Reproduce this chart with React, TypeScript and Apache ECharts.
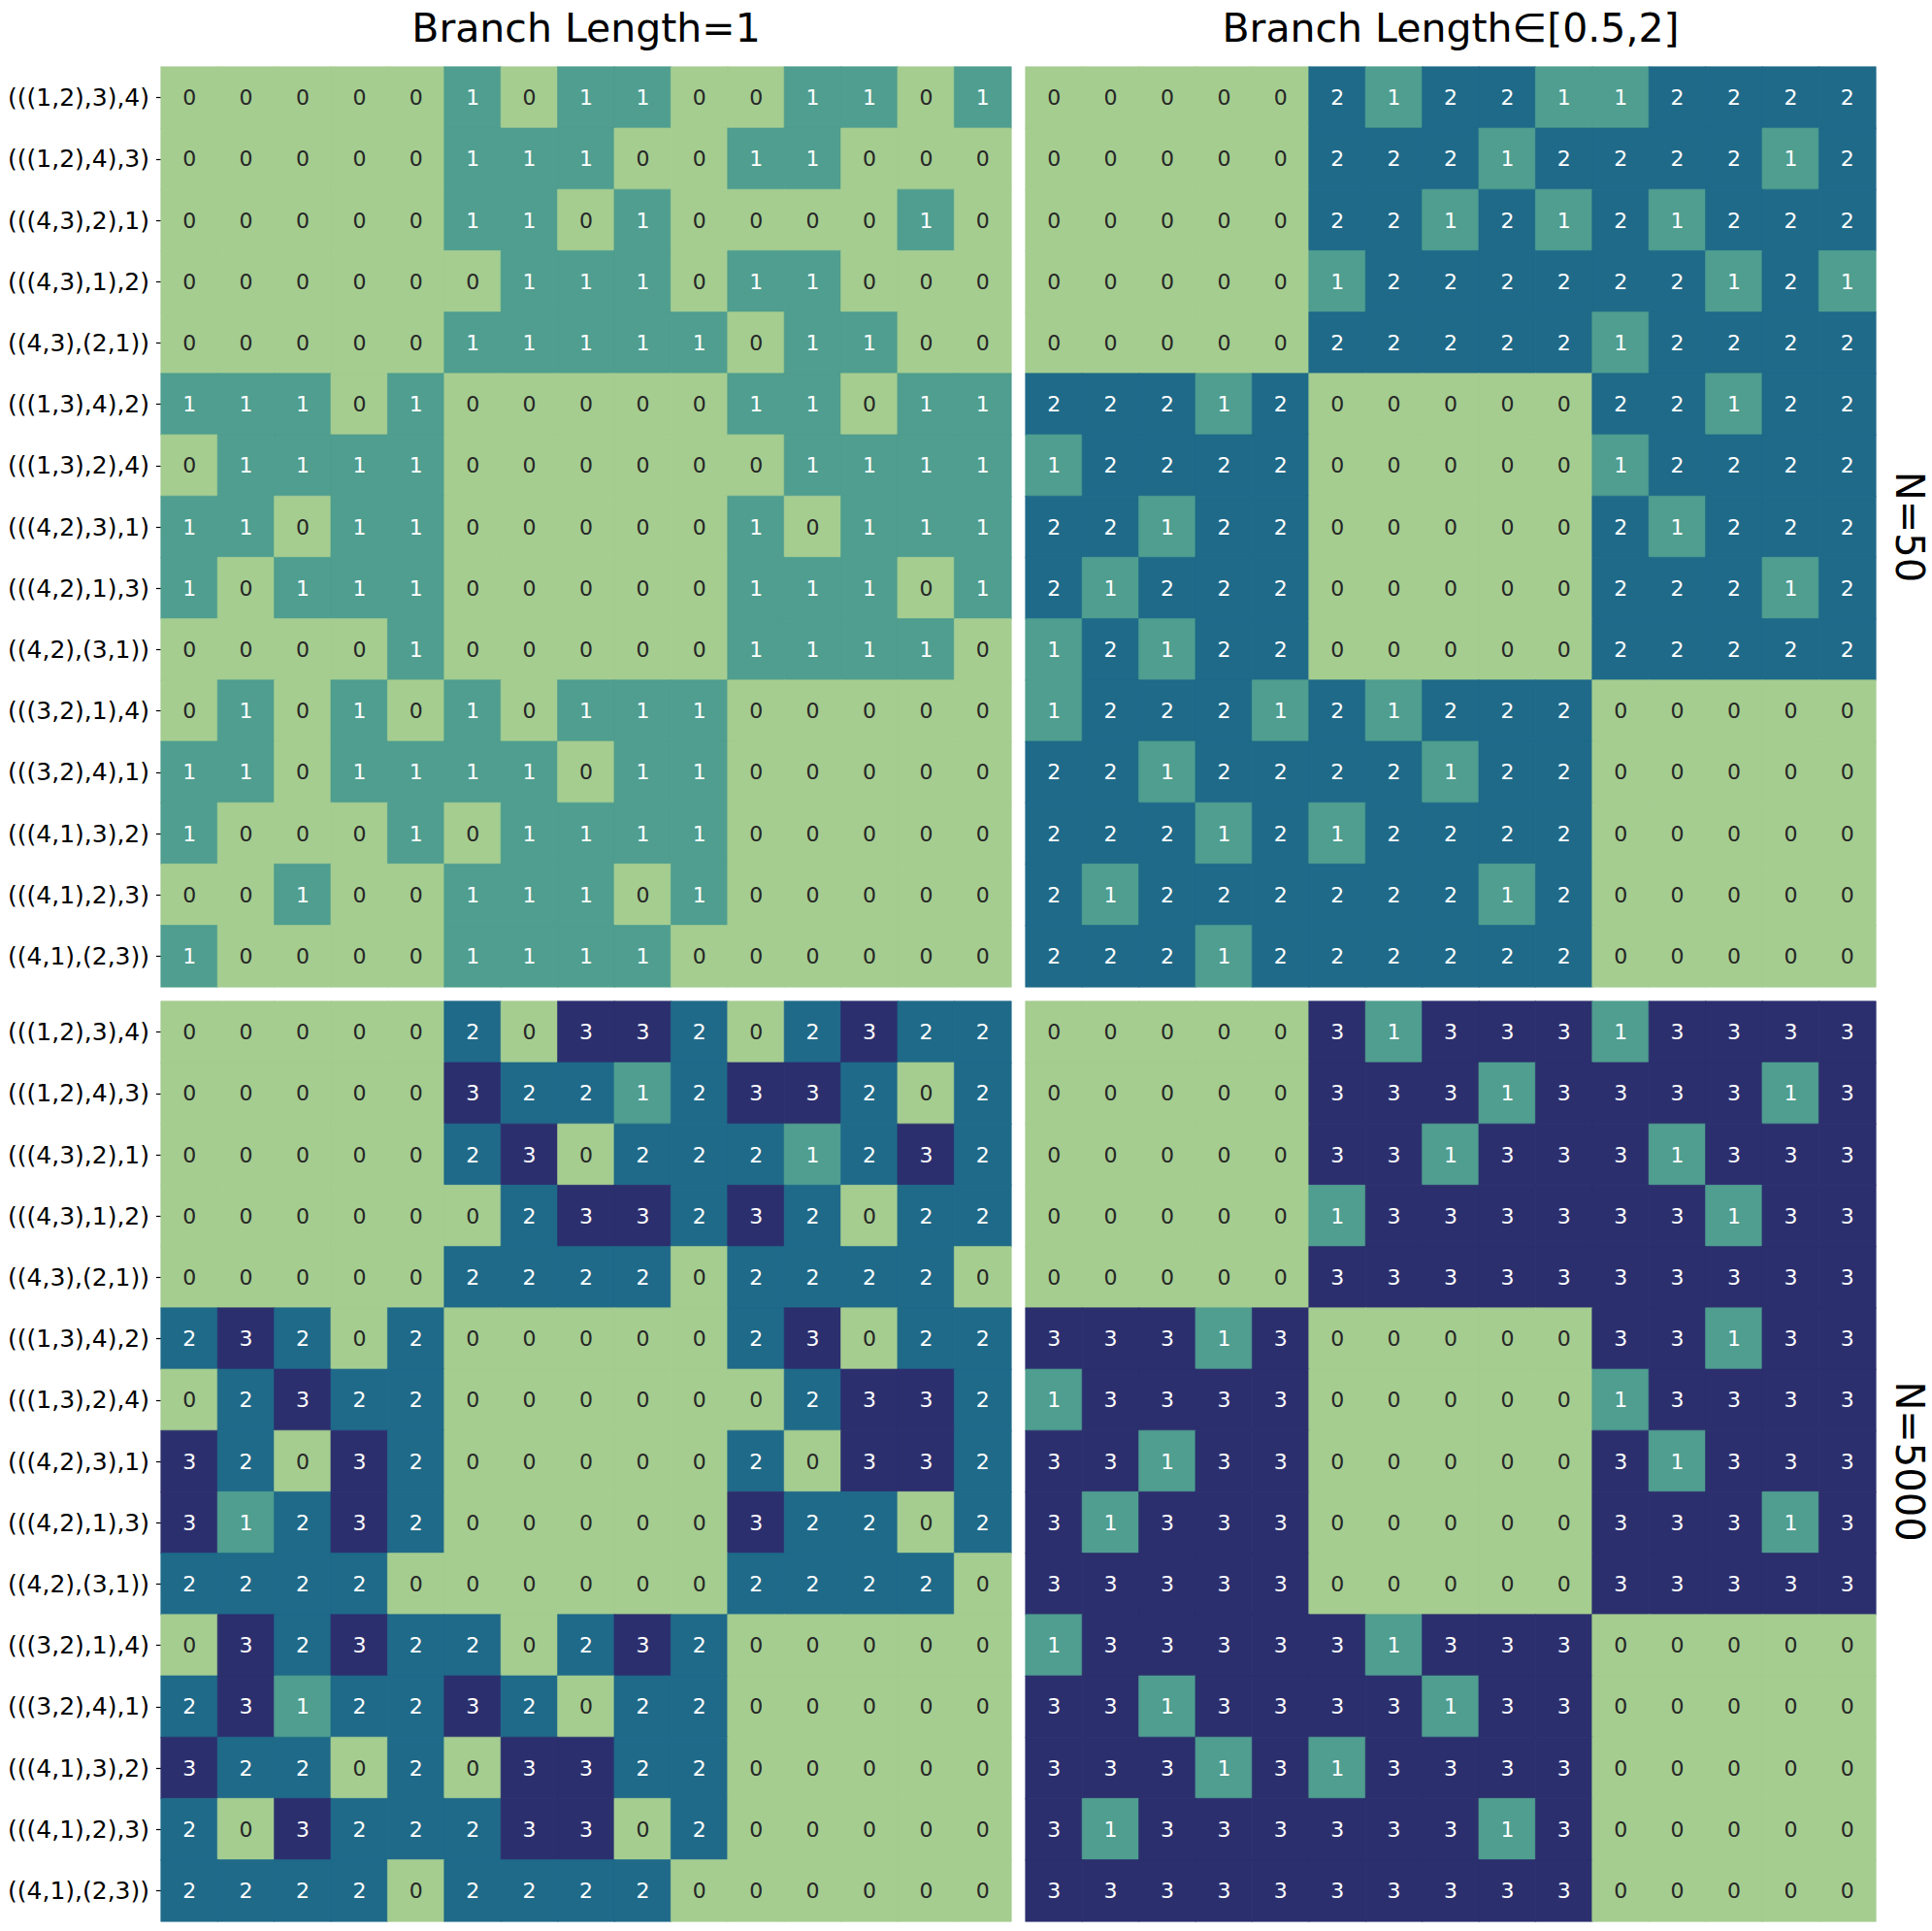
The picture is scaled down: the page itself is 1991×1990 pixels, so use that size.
import React, { useEffect, useRef } from "react";
import * as echarts from "echarts";

const rowLabels = [
  "(((1,2),3),4)",
  "(((1,2),4),3)",
  "(((4,3),2),1)",
  "(((4,3),1),2)",
  "((4,3),(2,1))",
  "(((1,3),4),2)",
  "(((1,3),2),4)",
  "(((4,2),3),1)",
  "(((4,2),1),3)",
  "((4,2),(3,1))",
  "(((3,2),1),4)",
  "(((3,2),4),1)",
  "(((4,1),3),2)",
  "(((4,1),2),3)",
  "((4,1),(2,3))",
];

const columnTitles = ["Branch Length=1", "Branch Length\u2208[0.5,2]"];
const rowTitles = ["N=50", "N=5000"];

const n50Fixed = [
  [0, 0, 0, 0, 0, 1, 0, 1, 1, 0, 0, 1, 1, 0, 1],
  [0, 0, 0, 0, 0, 1, 1, 1, 0, 0, 1, 1, 0, 0, 0],
  [0, 0, 0, 0, 0, 1, 1, 0, 1, 0, 0, 0, 0, 1, 0],
  [0, 0, 0, 0, 0, 0, 1, 1, 1, 0, 1, 1, 0, 0, 0],
  [0, 0, 0, 0, 0, 1, 1, 1, 1, 1, 0, 1, 1, 0, 0],
  [1, 1, 1, 0, 1, 0, 0, 0, 0, 0, 1, 1, 0, 1, 1],
  [0, 1, 1, 1, 1, 0, 0, 0, 0, 0, 0, 1, 1, 1, 1],
  [1, 1, 0, 1, 1, 0, 0, 0, 0, 0, 1, 0, 1, 1, 1],
  [1, 0, 1, 1, 1, 0, 0, 0, 0, 0, 1, 1, 1, 0, 1],
  [0, 0, 0, 0, 1, 0, 0, 0, 0, 0, 1, 1, 1, 1, 0],
  [0, 1, 0, 1, 0, 1, 0, 1, 1, 1, 0, 0, 0, 0, 0],
  [1, 1, 0, 1, 1, 1, 1, 0, 1, 1, 0, 0, 0, 0, 0],
  [1, 0, 0, 0, 1, 0, 1, 1, 1, 1, 0, 0, 0, 0, 0],
  [0, 0, 1, 0, 0, 1, 1, 1, 0, 1, 0, 0, 0, 0, 0],
  [1, 0, 0, 0, 0, 1, 1, 1, 1, 0, 0, 0, 0, 0, 0],
];

const n50Range = [
  [0, 0, 0, 0, 0, 2, 1, 2, 2, 1, 1, 2, 2, 2, 2],
  [0, 0, 0, 0, 0, 2, 2, 2, 1, 2, 2, 2, 2, 1, 2],
  [0, 0, 0, 0, 0, 2, 2, 1, 2, 1, 2, 1, 2, 2, 2],
  [0, 0, 0, 0, 0, 1, 2, 2, 2, 2, 2, 2, 1, 2, 1],
  [0, 0, 0, 0, 0, 2, 2, 2, 2, 2, 1, 2, 2, 2, 2],
  [2, 2, 2, 1, 2, 0, 0, 0, 0, 0, 2, 2, 1, 2, 2],
  [1, 2, 2, 2, 2, 0, 0, 0, 0, 0, 1, 2, 2, 2, 2],
  [2, 2, 1, 2, 2, 0, 0, 0, 0, 0, 2, 1, 2, 2, 2],
  [2, 1, 2, 2, 2, 0, 0, 0, 0, 0, 2, 2, 2, 1, 2],
  [1, 2, 1, 2, 2, 0, 0, 0, 0, 0, 2, 2, 2, 2, 2],
  [1, 2, 2, 2, 1, 2, 1, 2, 2, 2, 0, 0, 0, 0, 0],
  [2, 2, 1, 2, 2, 2, 2, 1, 2, 2, 0, 0, 0, 0, 0],
  [2, 2, 2, 1, 2, 1, 2, 2, 2, 2, 0, 0, 0, 0, 0],
  [2, 1, 2, 2, 2, 2, 2, 2, 1, 2, 0, 0, 0, 0, 0],
  [2, 2, 2, 1, 2, 2, 2, 2, 2, 2, 0, 0, 0, 0, 0],
];

const n5000Fixed = [
  [0, 0, 0, 0, 0, 2, 0, 3, 3, 2, 0, 2, 3, 2, 2],
  [0, 0, 0, 0, 0, 3, 2, 2, 1, 2, 3, 3, 2, 0, 2],
  [0, 0, 0, 0, 0, 2, 3, 0, 2, 2, 2, 1, 2, 3, 2],
  [0, 0, 0, 0, 0, 0, 2, 3, 3, 2, 3, 2, 0, 2, 2],
  [0, 0, 0, 0, 0, 2, 2, 2, 2, 0, 2, 2, 2, 2, 0],
  [2, 3, 2, 0, 2, 0, 0, 0, 0, 0, 2, 3, 0, 2, 2],
  [0, 2, 3, 2, 2, 0, 0, 0, 0, 0, 0, 2, 3, 3, 2],
  [3, 2, 0, 3, 2, 0, 0, 0, 0, 0, 2, 0, 3, 3, 2],
  [3, 1, 2, 3, 2, 0, 0, 0, 0, 0, 3, 2, 2, 0, 2],
  [2, 2, 2, 2, 0, 0, 0, 0, 0, 0, 2, 2, 2, 2, 0],
  [0, 3, 2, 3, 2, 2, 0, 2, 3, 2, 0, 0, 0, 0, 0],
  [2, 3, 1, 2, 2, 3, 2, 0, 2, 2, 0, 0, 0, 0, 0],
  [3, 2, 2, 0, 2, 0, 3, 3, 2, 2, 0, 0, 0, 0, 0],
  [2, 0, 3, 2, 2, 2, 3, 3, 0, 2, 0, 0, 0, 0, 0],
  [2, 2, 2, 2, 0, 2, 2, 2, 2, 0, 0, 0, 0, 0, 0],
];

const n5000Range = [
  [0, 0, 0, 0, 0, 3, 1, 3, 3, 3, 1, 3, 3, 3, 3],
  [0, 0, 0, 0, 0, 3, 3, 3, 1, 3, 3, 3, 3, 1, 3],
  [0, 0, 0, 0, 0, 3, 3, 1, 3, 3, 3, 1, 3, 3, 3],
  [0, 0, 0, 0, 0, 1, 3, 3, 3, 3, 3, 3, 1, 3, 3],
  [0, 0, 0, 0, 0, 3, 3, 3, 3, 3, 3, 3, 3, 3, 3],
  [3, 3, 3, 1, 3, 0, 0, 0, 0, 0, 3, 3, 1, 3, 3],
  [1, 3, 3, 3, 3, 0, 0, 0, 0, 0, 1, 3, 3, 3, 3],
  [3, 3, 1, 3, 3, 0, 0, 0, 0, 0, 3, 1, 3, 3, 3],
  [3, 1, 3, 3, 3, 0, 0, 0, 0, 0, 3, 3, 3, 1, 3],
  [3, 3, 3, 3, 3, 0, 0, 0, 0, 0, 3, 3, 3, 3, 3],
  [1, 3, 3, 3, 3, 3, 1, 3, 3, 3, 0, 0, 0, 0, 0],
  [3, 3, 1, 3, 3, 3, 3, 1, 3, 3, 0, 0, 0, 0, 0],
  [3, 3, 3, 1, 3, 1, 3, 3, 3, 3, 0, 0, 0, 0, 0],
  [3, 1, 3, 3, 3, 3, 3, 3, 1, 3, 0, 0, 0, 0, 0],
  [3, 3, 3, 3, 3, 3, 3, 3, 3, 3, 0, 0, 0, 0, 0],
];

const levelColors = ["#a5cd90", "#4f9e8f", "#1f6a89", "#2c2f6e"];
const FONT = "DejaVu Sans";

export default function App() {
  const ref = useRef<HTMLDivElement>(null);

  useEffect(() => {
    if (!ref.current) return;
    const chart = echarts.init(ref.current, undefined, { renderer: "svg" });

    const panels = [n50Fixed, n50Range, n5000Fixed, n5000Range];
    const lefts = [166, 1057];
    const tops = [69, 1032];
    const W = 876;
    const H = 948;

    const grid: any[] = [];
    const xAxis: any[] = [];
    const yAxis: any[] = [];
    const series: any[] = [];

    panels.forEach((mat, i) => {
      const col = i % 2;
      const row = Math.floor(i / 2);
      grid.push({ left: lefts[col], top: tops[row], width: W, height: H });
      xAxis.push({
        type: "category",
        gridIndex: i,
        data: rowLabels,
        show: false,
      });
      yAxis.push({
        type: "category",
        gridIndex: i,
        data: rowLabels,
        inverse: true,
        axisLine: { show: false },
        axisTick: {
          show: col === 0,
          alignWithLabel: true,
          length: 5,
          lineStyle: { color: "#000", width: 1.2 },
        },
        axisLabel: {
          show: col === 0,
          fontFamily: FONT,
          fontSize: 25,
          color: "#000",
          margin: 12,
          interval: 0,
        },
        splitLine: { show: false },
      });
      const data: any[] = [];
      mat.forEach((rowVals, r) => {
        rowVals.forEach((v, c) => {
          const fill = levelColors[v];
          data.push({
            value: [c, r, v],
            itemStyle: { borderColor: fill, borderWidth: 0.6 },
            label: { color: v === 0 ? "#262626" : "#ffffff" },
          });
        });
      });
      series.push({
        type: "heatmap",
        xAxisIndex: i,
        yAxisIndex: i,
        data,
        label: {
          show: true,
          fontFamily: FONT,
          fontSize: 22,
          formatter: (p: any) => String(p.value[2]),
        },
        emphasis: { disabled: true },
      });
    });

    const graphic: any[] = [];
    columnTitles.forEach((t, k) => {
      graphic.push({
        type: "text",
        x: lefts[k] + W / 2,
        y: 29,
        style: {
          text: t,
          fontFamily: FONT,
          fontSize: 41,
          fill: "#000",
          align: "center",
          verticalAlign: "middle",
        },
      });
    });
    rowTitles.forEach((t, k) => {
      graphic.push({
        type: "text",
        x: 1968,
        y: tops[k] + H / 2,
        rotation: -Math.PI / 2,
        style: {
          text: t,
          fontFamily: FONT,
          fontSize: 40,
          fill: "#000",
          align: "center",
          verticalAlign: "middle",
        },
      });
    });

    chart.setOption({
      animation: false,
      backgroundColor: "#ffffff",
      grid,
      xAxis,
      yAxis,
      visualMap: {
        type: "piecewise",
        show: false,
        dimension: 2,
        seriesIndex: [0, 1, 2, 3],
        pieces: levelColors.map((c, v) => ({ value: v, color: c })),
      },
      series,
      graphic,
    });

    return () => chart.dispose();
  }, []);

  return (
    <div
      ref={ref}
      style={{ position: "fixed", left: 0, top: 0, width: 1991, height: 1990 }}
    />
  );
}
